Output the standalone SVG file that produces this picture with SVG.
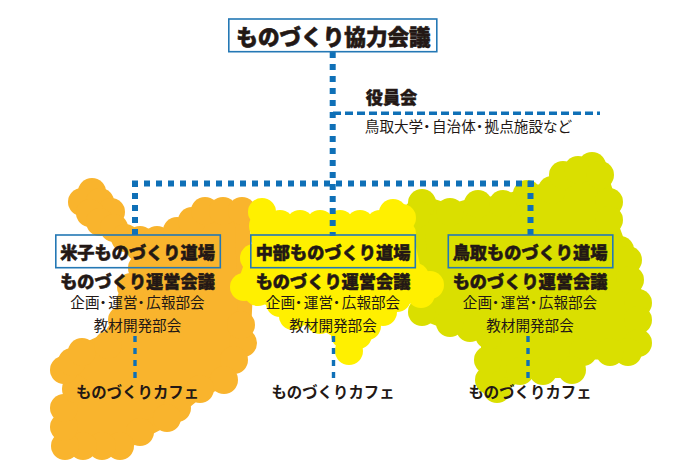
<svg xmlns="http://www.w3.org/2000/svg" width="700" height="464" viewBox="0 0 700 464">
<style>
text{font-family:"Noto Sans CJK JP","Noto Sans",sans-serif;fill:#231815;text-anchor:middle}
.h1{font-size:21.6px;font-weight:900;stroke:#231815;stroke-width:.6}
.h2{font-size:17.2px;font-weight:900;stroke:#231815;stroke-width:.5}
.b{font-size:14.6px;font-weight:400}
.c{font-size:15.4px;font-weight:700}
.d{font-feature-settings:"palt";letter-spacing:1.5px}
.box{fill:none;stroke:#2478b5;stroke-width:1.6}
.main{fill:none;stroke:#0f70b7;stroke-width:6;stroke-dasharray:6 6}
.thinh{fill:none;stroke:#0f70b7;stroke-width:3.4;stroke-dasharray:8 4}
.thinv{fill:none;stroke:#0f70b7;stroke-width:3.4;stroke-dasharray:6 6}
#map-orange{fill:#f9b42d;stroke:none}
#map-green{fill:#dadf00}
#map-yellow{fill:#fff000}
polygon{stroke-width:15;stroke-linejoin:round}
#map-orange polygon{stroke:#f9b42d}
#map-green polygon{stroke:#dadf00}
#map-yellow polygon{stroke:#fff000}
</style>
<g id="map-orange">
<polygon points="92,192 111,212 125,238 140,240 157,240 177,231 192,221 205,211 223,211 242,211 245,300 243,343 234,360 224,380 200,389 177,408 167,418 140,432 120,446 65,446 64,427 64,408 74,389 64,370 72,362 82,352 108,340 122,320 131,300 131,287 142,268 140,248 114,228 100,222 90,213 82,202"/>
<circle cx="92" cy="192" r="14"/><circle cx="82" cy="202" r="14"/><circle cx="100" cy="202" r="14"/><circle cx="111" cy="212" r="14"/><circle cx="90" cy="213" r="14"/><circle cx="100" cy="222" r="14"/><circle cx="114" cy="228" r="14"/><circle cx="125" cy="238" r="14"/><circle cx="140" cy="240" r="14"/><circle cx="157" cy="240" r="14"/><circle cx="177" cy="231" r="14"/><circle cx="192" cy="221" r="14"/><circle cx="205" cy="211" r="14"/><circle cx="223" cy="211" r="14"/><circle cx="242" cy="211" r="14"/><circle cx="243" cy="343" r="14"/><circle cx="241" cy="325" r="14"/><circle cx="234" cy="360" r="14"/><circle cx="224" cy="380" r="14"/><circle cx="200" cy="389" r="14"/><circle cx="177" cy="408" r="14"/><circle cx="167" cy="418" r="14"/><circle cx="140" cy="432" r="14"/><circle cx="120" cy="446" r="14"/><circle cx="102" cy="446" r="14"/><circle cx="83" cy="446" r="14"/><circle cx="65" cy="446" r="14"/><circle cx="64" cy="427" r="14"/><circle cx="64" cy="408" r="14"/><circle cx="76" cy="389" r="14"/><circle cx="64" cy="370" r="14"/><circle cx="72" cy="362" r="14"/><circle cx="82" cy="352" r="14"/><circle cx="108" cy="345" r="14"/><circle cx="122" cy="320" r="14"/><circle cx="131" cy="300" r="14"/><circle cx="131" cy="287" r="14"/><circle cx="142" cy="268" r="14"/><circle cx="140" cy="248" r="14"/>
</g>
<g id="map-green">
<polygon points="422,203 450,212 478,204 503,204 527,194 552,190 563,175 592,166 600,175 609,202 609,220 620,250 628,260 630,280 638,303 638,343 628,352 583,352 572,370 543,371 520,371 497,389 489,380 488,360 489,335 470,328 450,323 422,312 417,214"/>
<circle cx="422" cy="203" r="14"/><circle cx="450" cy="212" r="14"/><circle cx="417" cy="214" r="14"/><circle cx="478" cy="204" r="14"/><circle cx="503" cy="204" r="14"/><circle cx="527" cy="194" r="14"/><circle cx="552" cy="190" r="14"/><circle cx="563" cy="175" r="14"/><circle cx="592" cy="166" r="14"/><circle cx="578" cy="170" r="14"/><circle cx="600" cy="175" r="14"/><circle cx="609" cy="202" r="14"/><circle cx="609" cy="220" r="14"/><circle cx="620" cy="250" r="14"/><circle cx="628" cy="260" r="14"/><circle cx="630" cy="280" r="14"/><circle cx="638" cy="303" r="14"/><circle cx="638" cy="320" r="14"/><circle cx="638" cy="343" r="14"/><circle cx="628" cy="352" r="14"/><circle cx="610" cy="352" r="14"/><circle cx="583" cy="352" r="14"/><circle cx="572" cy="370" r="14"/><circle cx="543" cy="371" r="14"/><circle cx="520" cy="371" r="14"/><circle cx="497" cy="389" r="14"/><circle cx="489" cy="380" r="14"/><circle cx="488" cy="360" r="14"/><circle cx="489" cy="335" r="14"/><circle cx="470" cy="328" r="14"/><circle cx="450" cy="323" r="14"/><circle cx="422" cy="312" r="14"/>
</g>
<g id="map-yellow">
<polygon points="262,212 280,224 380,224 393,213 402,218 415,277 430,285 421,294 397,298 383,312 367,326 358,335 349,351 345,335 320,320 293,316 280,303 244,287 254,258 264,236"/>
<circle cx="262" cy="212" r="14"/><circle cx="263" cy="226" r="14"/><circle cx="280" cy="224" r="14"/><circle cx="300" cy="224" r="14"/><circle cx="320" cy="224" r="14"/><circle cx="340" cy="224" r="14"/><circle cx="360" cy="224" r="14"/><circle cx="380" cy="224" r="14"/><circle cx="393" cy="213" r="14"/><circle cx="402" cy="218" r="14"/><circle cx="402" cy="234" r="14"/><circle cx="415" cy="277" r="14"/><circle cx="430" cy="285" r="14"/><circle cx="421" cy="294" r="14"/><circle cx="397" cy="298" r="14"/><circle cx="383" cy="312" r="14"/><circle cx="367" cy="326" r="14"/><circle cx="358" cy="335" r="14"/><circle cx="349" cy="351" r="14"/><circle cx="345" cy="335" r="14"/><circle cx="320" cy="320" r="14"/><circle cx="293" cy="316" r="14"/><circle cx="280" cy="303" r="14"/><circle cx="244" cy="287" r="14"/><circle cx="258" cy="292" r="14"/><circle cx="254" cy="258" r="14"/><circle cx="264" cy="236" r="14"/>
</g>
<g id="connectors">
<path class="main" d="M332.7 52V236"/>
<path class="main" d="M132 183.5H534"/>
<path class="main" d="M135 181V236"/>
<path class="main" d="M530.5 181V236"/>
<path class="thinh" d="M333 113.3H600"/>
<path class="thinv" d="M135 336V378"/>
<path class="thinv" d="M333.5 336V378"/>
<path class="thinv" d="M528 336V378"/>
</g>
<g id="node-council">
<rect class="box" x="228.8" y="19" width="208" height="32.7"/>
<text class="h1" x="333.5" y="45">ものづくり協力会議</text>
</g>
<g id="node-board">
<text class="h2" x="391.5" y="104">役員会</text>
<text class="b" x="468.5" y="132">鳥取大学<tspan class="d">・</tspan>自治体<tspan class="d">・</tspan>拠点施設など</text>
</g>
<g id="node-yonago">
<rect class="box" x="55.8" y="235" width="164.5" height="32.7"/>
<text class="h2" x="137.5" y="259">米子ものづくり道場</text>
<text class="h2" x="137.5" y="288">ものづくり運営会議</text>
<text class="b" x="137.5" y="307.5">企画<tspan class="d">・</tspan>運営<tspan class="d">・</tspan>広報部会</text>
<text class="b" x="137.5" y="330.5">教材開発部会</text>
<text class="c" x="137.5" y="398">ものづくりカフェ</text>
</g>
<g id="node-chubu">
<rect class="box" x="250.8" y="235" width="164.5" height="32.7"/>
<text class="h2" x="333" y="259">中部ものづくり道場</text>
<text class="h2" x="333" y="288">ものづくり運営会議</text>
<text class="b" x="333" y="307.5">企画<tspan class="d">・</tspan>運営<tspan class="d">・</tspan>広報部会</text>
<text class="b" x="333" y="330.5">教材開発部会</text>
<text class="c" x="333" y="398">ものづくりカフェ</text>
</g>
<g id="node-tottori">
<rect class="box" x="448.3" y="235" width="164.5" height="32.7"/>
<text class="h2" x="530" y="259">鳥取ものづくり道場</text>
<text class="h2" x="530" y="288">ものづくり運営会議</text>
<text class="b" x="530" y="307.5">企画<tspan class="d">・</tspan>運営<tspan class="d">・</tspan>広報部会</text>
<text class="b" x="530" y="330.5">教材開発部会</text>
<text class="c" x="530" y="398">ものづくりカフェ</text>
</g>
</svg>
